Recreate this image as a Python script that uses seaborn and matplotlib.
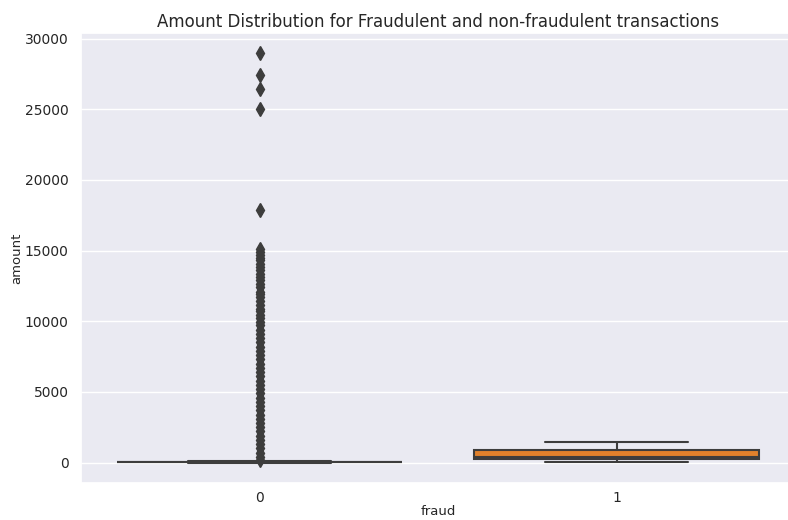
import numpy as np
import pandas as pd
import matplotlib
matplotlib.use("Agg")
import matplotlib.pyplot as plt
import seaborn as sns

# ---- data ----
fraud_labels = [0, 1]

# bulk of non-fraudulent amounts (value, count) -> tiny box near 0
nonfraud_base_values = [0, 10, 20, 30, 40, 50, 60, 80, 100]
nonfraud_base_counts = [150, 250, 250, 250, 200, 200, 100, 60, 30]

# non-fraudulent outliers
nonfraud_outliers = [150, 400, 700, 1000, 1300, 1600, 1900, 2200, 2500, 2800,
                     3100, 3400, 3700, 4000, 4300, 4600, 4900, 5200, 5500, 5800,
                     6100, 6400, 6700, 7000, 7300, 7600, 7900, 8200, 8500, 8800,
                     9100, 9400, 9700, 9950, 10200, 10450, 10700, 10900, 11150,
                     11400, 11700, 11900, 12100, 12400, 12650, 12900, 13100,
                     13350, 13600, 13850, 14050, 14300, 14500, 14700, 14900,
                     15100, 17900, 25000, 26450, 27400, 28950]

# fraudulent amounts
fraud_amounts = [10, 120, 230, 300, 400, 550, 900, 1200, 1480]

palette = ["#1f77b4", "#ff7f0e"]

nonfraud = list(np.repeat(nonfraud_base_values, nonfraud_base_counts)) + nonfraud_outliers
df = pd.DataFrame({
    "fraud": [fraud_labels[0]] * len(nonfraud) + [fraud_labels[1]] * len(fraud_amounts),
    "amount": nonfraud + fraud_amounts,
})

sns.set_theme(style="darkgrid")
plt.rcParams["font.family"] = ["DejaVu Sans"]

fig = plt.figure(figsize=(7.88, 5.2), dpi=100)
ax = fig.add_axes([81 / 788, 1 - 483 / 520, 714 / 788, 450 / 520])

line_gray = "#3d3d3d"
sns.boxplot(data=df, x="fraud", y="amount", hue="fraud", palette=palette,
            legend=False, ax=ax, linewidth=1.5, fliersize=7, linecolor=line_gray,
            flierprops={"marker": "d", "markerfacecolor": line_gray,
                        "markeredgecolor": line_gray},
            saturation=0.75)

ax.set_title("Amount Distribution for Fraudulent and non-fraudulent transactions",
             fontsize=12, color="#262626", pad=4)
ax.set_xlabel("fraud", fontsize=9.5, color="#262626")
ax.set_ylabel("amount", fontsize=9.5, color="#262626", labelpad=1)
ax.tick_params(axis="x", labelsize=10, colors="#262626", pad=0)
ax.tick_params(axis="y", labelsize=10, colors="#262626", pad=3)
ax.set_yticks([0, 5000, 10000, 15000, 20000, 25000, 30000])
ax.xaxis.set_label_coords(0.5, -0.048)

fig.savefig("out.png", dpi=100)
